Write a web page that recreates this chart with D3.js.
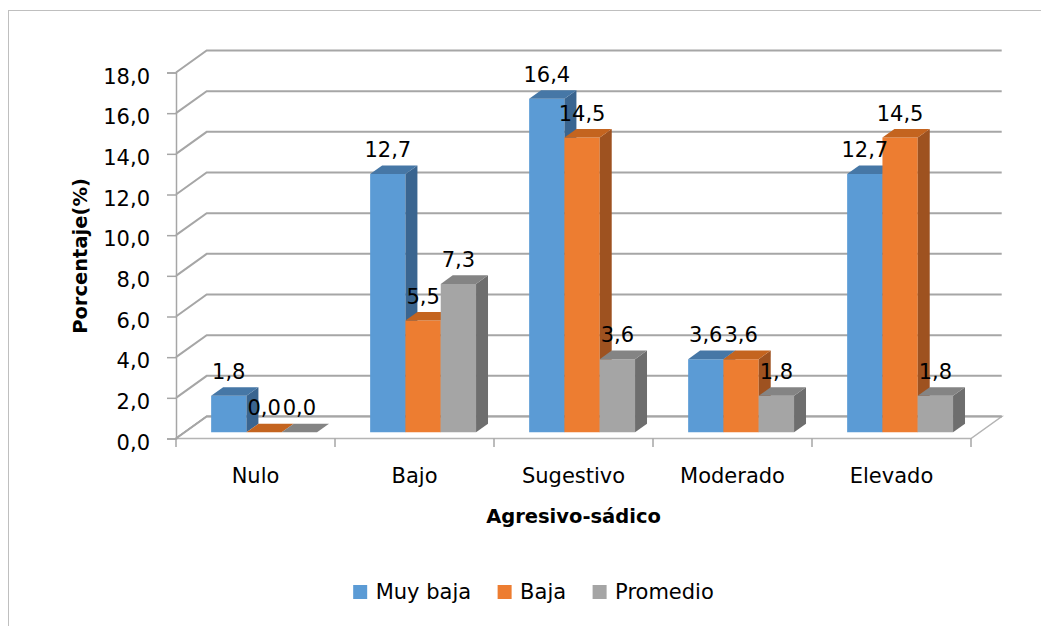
<!DOCTYPE html>
<html>
<head>
<meta charset="utf-8">
<script src="https://cdn.jsdelivr.net/npm/d3@7"></script>
<style>
  html, body { margin: 0; padding: 0; background: #ffffff; }
  svg { display: block; }
  text { font-family: "DejaVu Sans", sans-serif; fill: #000; }
</style>
</head>
<body>
<svg id="chart" width="1041" height="626"></svg>
<script>
// ---- data ----
const categories = ["Nulo", "Bajo", "Sugestivo", "Moderado", "Elevado"];
const seriesNames = ["Muy baja", "Baja", "Promedio"];
const muyBaja  = [1.8, 12.7, 16.4, 3.6, 12.7];
const baja     = [0.0, 5.5, 14.5, 3.6, 14.5];
const promedio = [0.0, 7.3, 3.6, 1.8, 1.8];
const yTicks = [0, 2, 4, 6, 8, 10, 12, 14, 16, 18];
const yTitle = "Porcentaje(%)";
const xTitle = "Agresivo-sádico";

const seriesValues = [muyBaja, baja, promedio];
const frontColors = ["#5B9BD5", "#ED7D31", "#A5A5A5"];
const topColors   = ["#4677A6", "#C4641F", "#848484"];
const sideColors  = ["#3A6590", "#9E5220", "#6E6E6E"];

const svg = d3.select("#chart");
const fmt = v => v.toFixed(1).replace(".", ",");

// outer frame
svg.append("rect").attr("x", 8.5).attr("y", 10.5).attr("width", 1100).attr("height", 700)
  .attr("fill", "none").attr("stroke", "#bfbfbf").attr("stroke-width", 1);

// ---- scales & projection ----
const x0 = 176, x1 = 971;
const xBand = d3.scaleBand().domain(categories).range([x0, x1]).paddingInner(0).paddingOuter(0);
const y = d3.scaleLinear().domain([0, 18]).range([438.5, 72.5]);
const DX = 30.7, DY = 22;          // full depth offset
const zFront = 0.28, zBack = 0.67; // bar depth position
const barW = 35.3;
const groupOffset = (xBand.bandwidth() - barW * seriesNames.length) / 2;
const xSeries = d3.scaleBand().domain(seriesNames)
  .range([groupOffset, groupOffset + barW * seriesNames.length]).padding(0);

const P = (px, v, z) => [px + z * DX, y(v) - z * DY];
const poly = pts => "M" + pts.map(p => p.join(",")).join("L") + "Z";

const gridColor = "#a6a6a6";

// ---- walls / gridlines ----
const grid = svg.append("g");
yTicks.forEach(t => {
  const a = P(x0, t, 0), b = P(x0, t, 1), c = P(x1, t, 1);
  grid.append("path").attr("d", `M${a}L${b}L${c}`)
    .attr("fill", "none").attr("stroke", gridColor).attr("stroke-width", 2);
});
// floor
const fl = [P(x0, 0, 0), P(x1, 0, 0), P(x1, 0, 1), P(x0, 0, 1)];
svg.append("path").attr("d", poly(fl)).attr("fill", "#ffffff")
  .attr("stroke", "#b4b4b4").attr("stroke-width", 1.5);
// redraw back floor line in grid color
svg.append("path").attr("d", `M${P(x0,0,0)}L${P(x0,0,1)}L${P(x1,0,1)}`)
  .attr("fill", "none").attr("stroke", gridColor).attr("stroke-width", 2);

// ---- y axis (front) ----
const yAxis = d3.axisLeft(y).tickValues(yTicks).tickFormat(fmt).tickSize(9).tickPadding(17);
const yg = svg.append("g").attr("transform", `translate(${x0},0)`).call(yAxis);
yg.select(".domain").attr("stroke", "#a6a6a6").attr("stroke-width", 1.5);
yg.selectAll(".tick line").attr("stroke", "#a6a6a6").attr("stroke-width", 1.5);
yg.selectAll(".tick text").attr("font-family", "DejaVu Sans").attr("font-size", 21)
  .attr("dy", "0.5em").attr("fill", "#000");
yg.attr("font-family", null).attr("font-size", null);

// ---- x axis ticks & labels ----
const bounds = categories.map(c => xBand(c)).concat([x1]);
svg.append("g").selectAll("line").data(bounds).join("line")
  .attr("x1", d => d).attr("x2", d => d)
  .attr("y1", y(0)).attr("y2", y(0) + 8.5)
  .attr("stroke", "#a6a6a6").attr("stroke-width", 1.5);
svg.append("g").selectAll("text").data(categories).join("text")
  .attr("x", d => xBand(d) + xBand.bandwidth() / 2)
  .attr("y", 483)
  .attr("text-anchor", "middle").attr("font-size", 21)
  .text(d => d);

// ---- bars ----
const barsG = svg.append("g");
categories.forEach((cat, ci) => {
  seriesNames.forEach((s, si) => {
    const v = seriesValues[si][ci];
    const xl = xBand(cat) + xSeries(s), xr = xl + barW;
    const g = barsG.append("g");
    // front
    g.append("path").attr("d", poly([P(xl, 0, zFront), P(xr, 0, zFront), P(xr, v, zFront), P(xl, v, zFront)]))
      .attr("fill", frontColors[si]);
    // side
    g.append("path").attr("d", poly([P(xr, 0, zFront), P(xr, 0, zBack), P(xr, v, zBack), P(xr, v, zFront)]))
      .attr("fill", sideColors[si]);
    // top
    g.append("path").attr("d", poly([P(xl, v, zFront), P(xr, v, zFront), P(xr, v, zBack), P(xl, v, zBack)]))
      .attr("fill", topColors[si]);
  });
});

// ---- data labels ----
const labelsG = svg.append("g");
categories.forEach((cat, ci) => {
  seriesNames.forEach((s, si) => {
    const v = seriesValues[si][ci];
    const xc = xBand(cat) + xSeries(s) + barW / 2;
    const p = P(xc, v, zFront);
    labelsG.append("text").attr("x", p[0]).attr("y", p[1] - 17)
      .attr("text-anchor", "middle").attr("font-size", 21).text(fmt(v));
  });
});

// ---- axis titles ----
svg.append("text").attr("transform", "translate(87,256) rotate(-90)")
  .attr("text-anchor", "middle").attr("font-size", 19.5).attr("font-weight", "bold")
  .text(yTitle);
svg.append("text").attr("x", (x0 + x1) / 2).attr("y", 523)
  .attr("text-anchor", "middle").attr("font-size", 19.5).attr("font-weight", "bold")
  .text(xTitle);

// ---- legend ----
const leg = svg.append("g");
let lx = 0;
const items = [];
seriesNames.forEach((s, si) => {
  const it = leg.append("g");
  it.append("rect").attr("x", 0).attr("y", 585).attr("width", 14).attr("height", 14).attr("fill", frontColors[si]);
  const t = it.append("text").attr("x", 22.5).attr("y", 599).attr("font-size", 21).text(s);
  const w = 22.5 + t.node().getComputedTextLength();
  it.attr("transform", `translate(${lx},0)`);
  items.push(it);
  lx += w + 26.5;
});
const totalW = lx - 26.5;
leg.attr("transform", `translate(${533.5 - totalW / 2},0)`);
</script>
</body>
</html>
